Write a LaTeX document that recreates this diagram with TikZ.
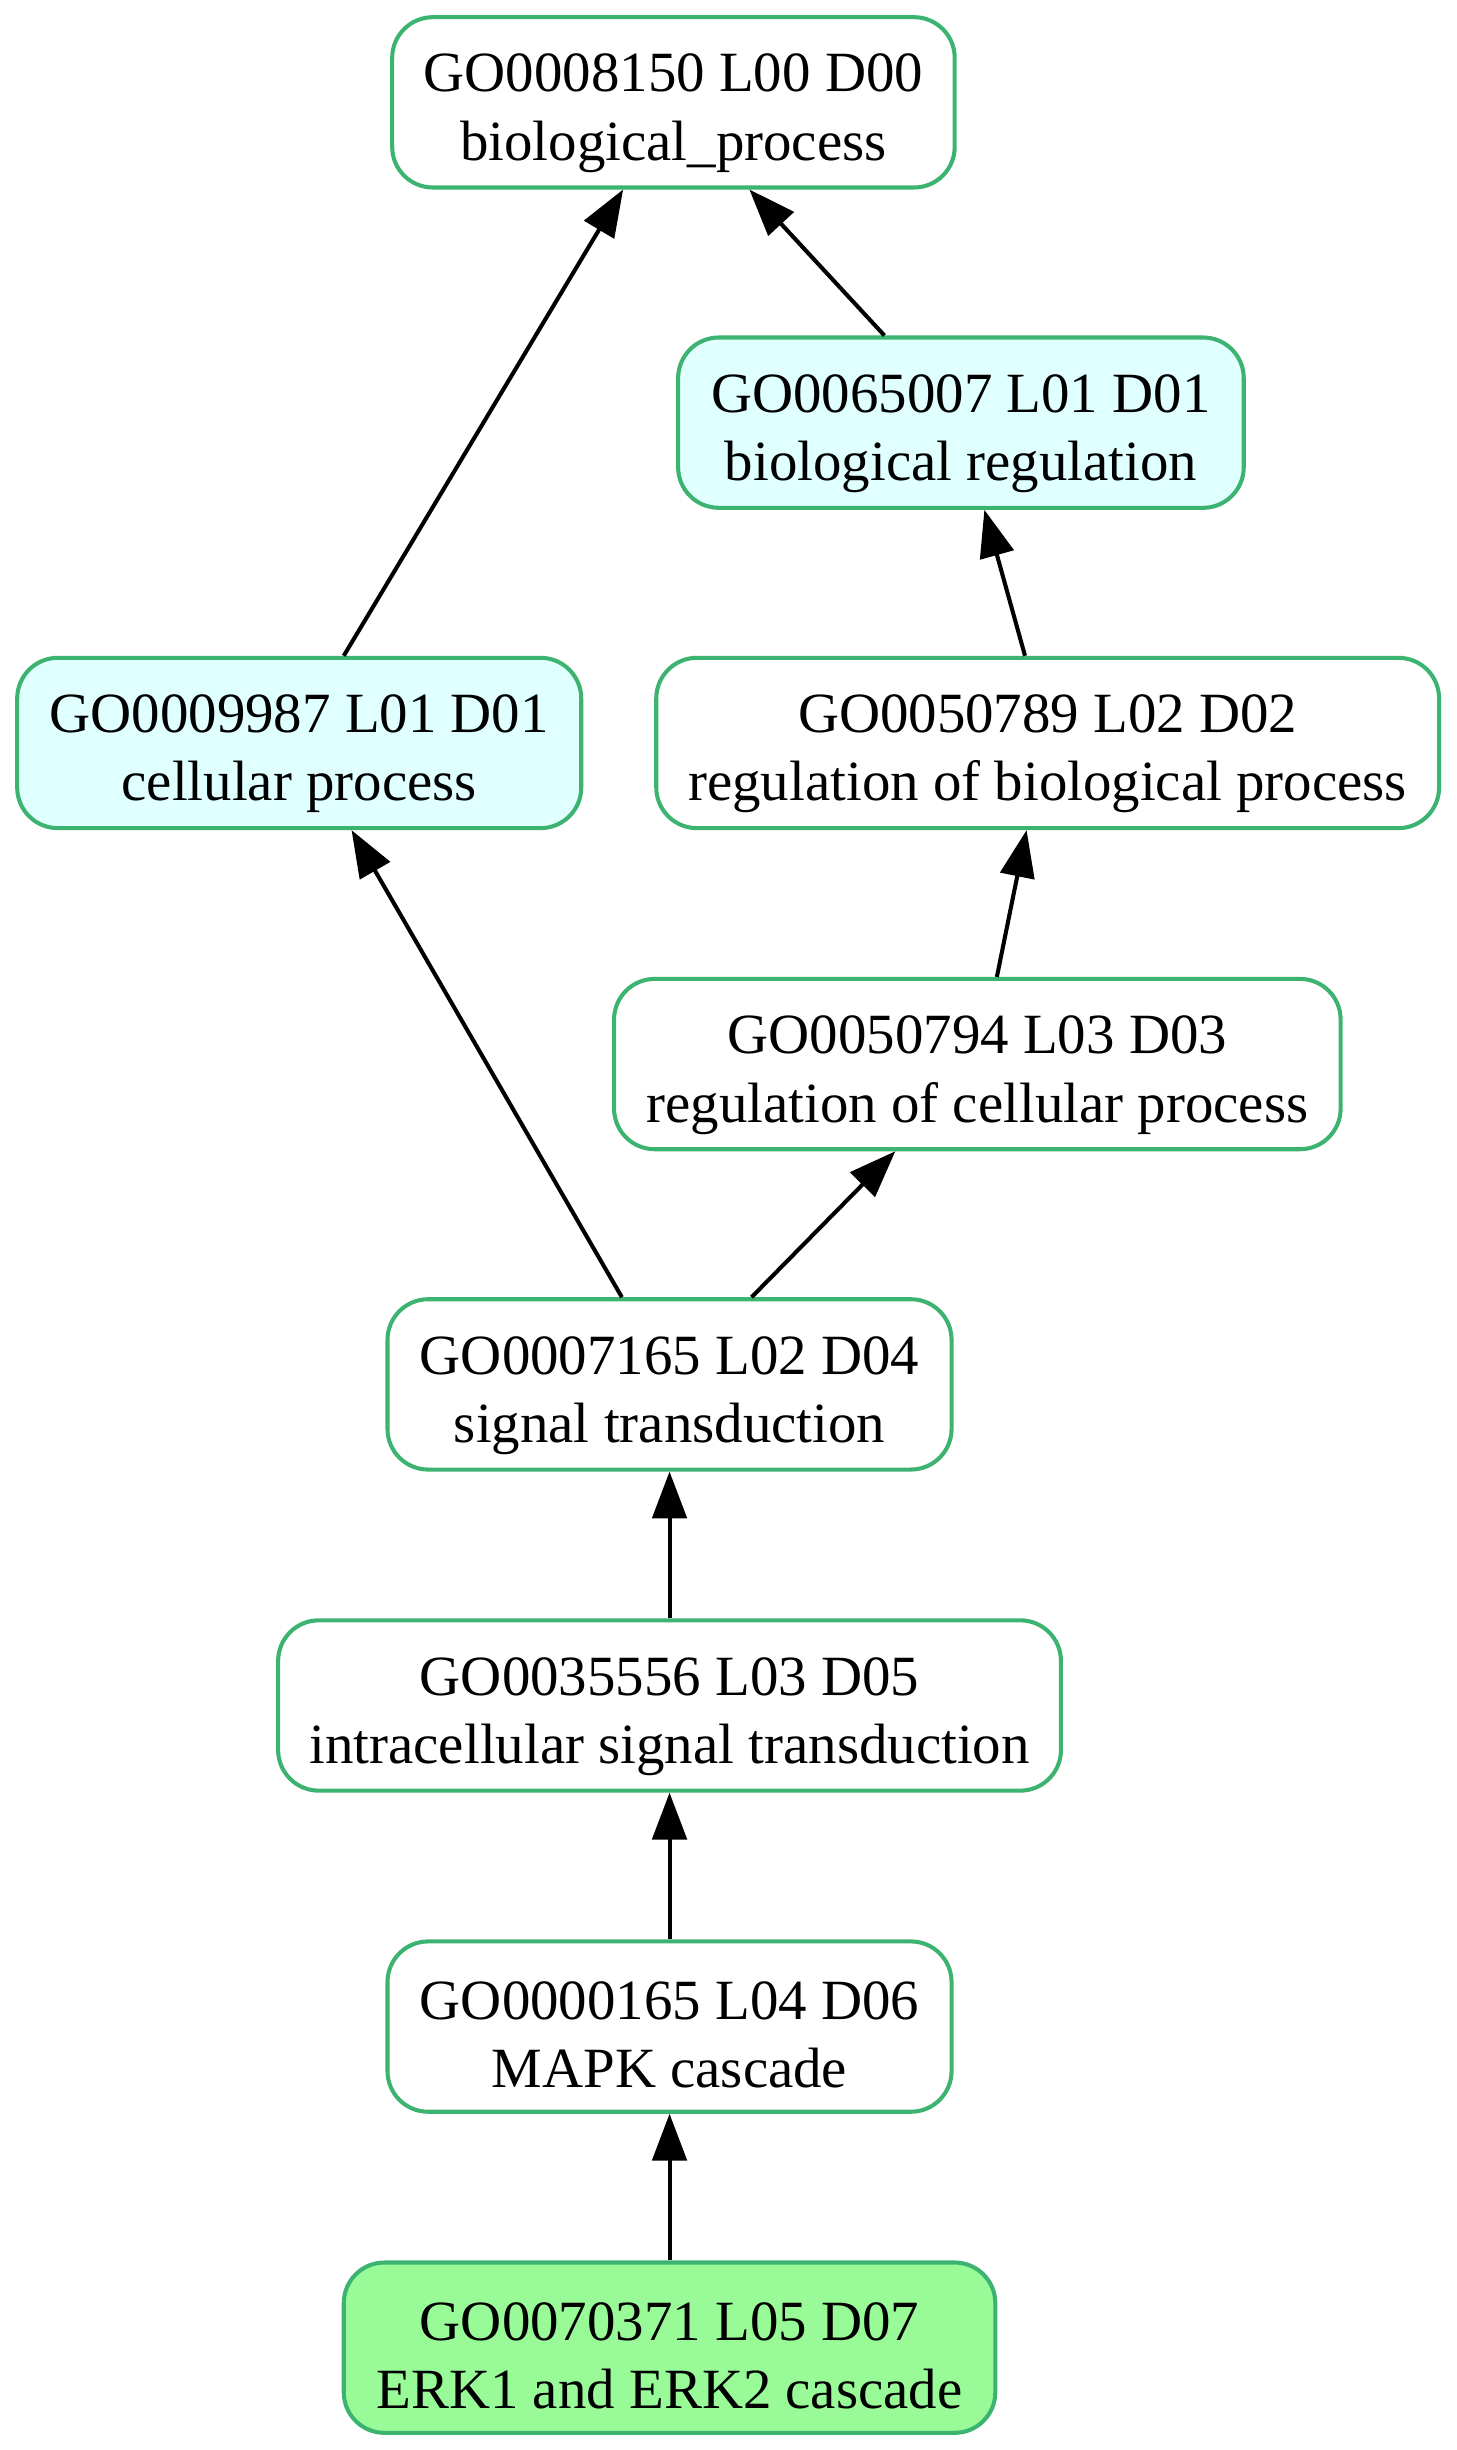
\documentclass[tikz,border=0pt]{standalone}
\usepackage{fontspec}
\setmainfont{Liberation Serif}
\usetikzlibrary{arrows.meta}
\definecolor{gvborder}{HTML}{3CB371}
\definecolor{gvcyan}{HTML}{E0FFFF}
\definecolor{gvgreen}{HTML}{98FB98}
\newcommand\gostrut{\rule[-4pt]{0pt}{42.3pt}}
\newcommand\golabel[2]{\gostrut#1\\\gostrut#2}
\tikzset{
  gonode/.style={draw=gvborder, line width=2.6pt, rounded corners=26pt, fill=white,
    minimum height=109pt, inner sep=0pt, align=center,
    font=\fontsize{36.4}{43.7}\selectfont},
  cyannode/.style={gonode, fill=gvcyan},
  greennode/.style={gonode, fill=gvgreen},
  edge/.style={line width=2.6pt, black, -{Triangle[length=30pt,width=22pt]}}
}
\begin{document}
\begin{tikzpicture}[x=1pt,y=-1pt]
\useasboundingbox (0,0) rectangle (932,1568);
\node[gonode, minimum width=360pt] (n1) at (431,65.5) {\golabel{GO0008150 L00 D00}{biological\_process}};
\node[cyannode, minimum width=362pt] (n2) at (615,270.5) {\golabel{GO0065007 L01 D01}{biological regulation}};
\node[cyannode, minimum width=361pt] (n3) at (191.5,475.5) {\golabel{GO0009987 L01 D01}{cellular process}};
\node[gonode, minimum width=501pt] (n4) at (670.5,475.5) {\golabel{GO0050789 L02 D02}{regulation of biological process}};
\node[gonode, minimum width=465pt] (n5) at (625.5,681) {\golabel{GO0050794 L03 D03}{regulation of cellular process}};
\node[gonode, minimum width=361pt] (n6) at (428.5,886) {\golabel{GO0007165 L02 D04}{signal transduction}};
\node[gonode, minimum width=501pt] (n7) at (428.5,1091.5) {\golabel{GO0035556 L03 D05}{intracellular signal transduction}};
\node[gonode, minimum width=361pt] (n8) at (428.5,1297) {\golabel{GO0000165 L04 D06}{MAPK cascade}};
\node[greennode, minimum width=417pt] (n9) at (428.5,1502.5) {\golabel{GO0070371 L05 D07}{ERK1 and ERK2 cascade}};

\draw[edge] ([xshift=28.5pt]n3.north) -- ([xshift=-32.2pt]n1.south);
\draw[edge] ([xshift=-49pt]n2.north) -- ([xshift=48.6pt]n1.south);
\draw[edge] ([xshift=-14.5pt]n4.north) -- ([xshift=15pt]n2.south);
\draw[edge] ([xshift=12.5pt]n5.north) -- ([xshift=-13.5pt]n4.south);
\draw[edge] ([xshift=-30.5pt]n6.north) -- ([xshift=33.5pt]n3.south);
\draw[edge] ([xshift=52.5pt]n6.north) -- ([xshift=-52.5pt]n5.south);
\draw[edge] (n7.north) -- (n6.south);
\draw[edge] (n8.north) -- (n7.south);
\draw[edge] (n9.north) -- (n8.south);
\end{tikzpicture}
\end{document}
